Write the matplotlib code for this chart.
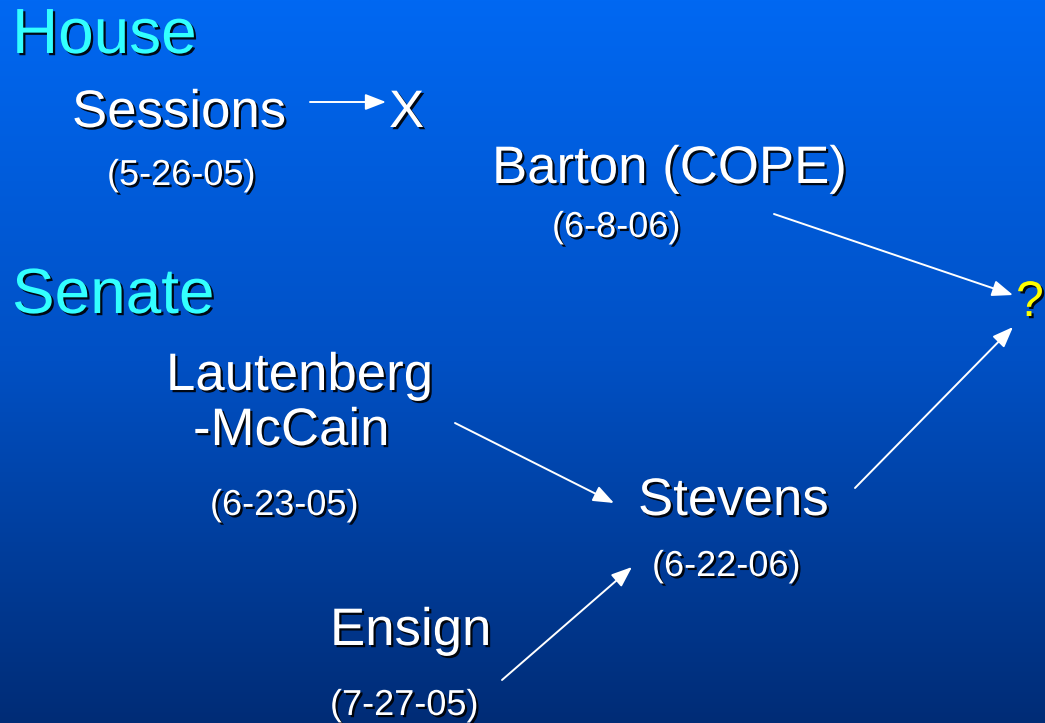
import matplotlib
matplotlib.use("Agg")
import matplotlib.pyplot as plt
import matplotlib.patheffects as pe
import numpy as np

# ---- content ----
headings = ["House", "Senate"]
names = ["Sessions", "X", "Barton (COPE)", "Lautenberg", "-McCain", "Stevens", "Ensign"]
dates = ["(5-26-05)", "(6-8-06)", "(6-23-05)", "(6-22-06)", "(7-27-05)"]
outcome = "?"

# ---- layout (pixel coordinates, left/baseline) ----
heading_pos = [(12, 53), (12, 313)]
name_pos = [(72, 127), (389, 127), (492, 183), (166, 390), (193, 445), (638, 515), (330, 645)]
date_pos = [(107, 185), (552, 237), (210, 515), (652, 576), (330, 715)]
outcome_pos = (1016, 316)
arrows = [((310, 102), (386, 102)),
          ((774, 214), (1013, 295)),
          ((455, 423), (614, 503)),
          ((855, 488), (1013, 327)),
          ((502, 680), (632, 567))]

W, H = 1045, 723
fig = plt.figure(figsize=(W / 100, H / 100), dpi=100)
ax = fig.add_axes([0, 0, 1, 1])
ax.set_xlim(0, W)
ax.set_ylim(H, 0)
ax.axis("off")

# background gradient
stops_y = np.array([0.0, 0.5, 1.0])
stops_c = np.array([[0, 104, 242], [0, 80, 196], [0, 44, 118]]) / 255.0
yy = np.linspace(0, 1, 400)
grad = np.stack([np.interp(yy, stops_y, stops_c[:, k]) for k in range(3)], axis=-1)
grad = np.repeat(grad[:, None, :], 2, axis=1)
ax.imshow(grad, extent=[0, W, H, 0], aspect="auto", zorder=0, interpolation="bilinear")

shadow = [pe.SimplePatchShadow(offset=(1.6, -1.6), shadow_rgbFace="black", alpha=0.9), pe.Normal()]
font = "Liberation Sans"

for t, (x, y) in zip(headings, heading_pos):
    ax.text(x, y, t, color="#33FFFF", fontsize=46, family=font, ha="left", va="baseline",
            path_effects=shadow, zorder=3)
for t, (x, y) in zip(names, name_pos):
    ax.text(x, y, t, color="white", fontsize=38, family=font, ha="left", va="baseline",
            path_effects=shadow, zorder=3)
for t, (x, y) in zip(dates, date_pos):
    ax.text(x, y, t, color="white", fontsize=26, family=font, ha="left", va="baseline",
            path_effects=shadow, zorder=3)
ax.text(outcome_pos[0], outcome_pos[1], outcome, color="#FFFF00", fontsize=36, family=font,
        ha="left", va="baseline", path_effects=shadow, zorder=3)

for (x0, y0), (x1, y1) in arrows:
    ax.annotate("", xy=(x1, y1), xytext=(x0, y0),
                arrowprops=dict(arrowstyle="-|>,head_length=0.9,head_width=0.35",
                                color="white", lw=1.4, shrinkA=0, shrinkB=0,
                                mutation_scale=14),
                zorder=2)

fig.savefig("out.png", dpi=100)
